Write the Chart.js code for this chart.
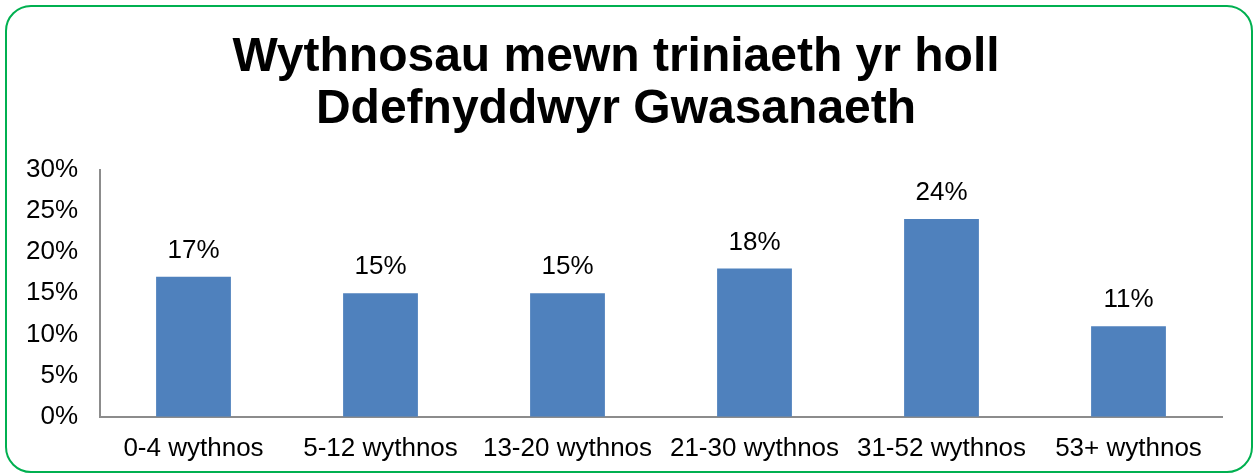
<!DOCTYPE html>
<html>
<head>
<meta charset="utf-8">
<script src="https://cdn.jsdelivr.net/npm/chart.js@4"></script>
<style>
    body { margin: 0; background: #fff; }
    #frame {
        position: absolute; left: 5px; top: 5px; width: 1244px; height: 464px;
        border: 2px solid #00B050; border-radius: 26px;
    }
    #wrap { position: absolute; left: 0; top: 0; width: 1255px; height: 476px; }
</style>
</head>
<body>
<div id="frame"></div>
<div id="wrap"><canvas id="chart"></canvas></div>
<script>
const categories = ["0-4 wythnos", "5-12 wythnos", "13-20 wythnos", "21-30 wythnos", "31-52 wythnos", "53+ wythnos"];
const percentValues = [17, 15, 15, 18, 24, 11];
const titleLines = ["Wythnosau mewn triniaeth yr holl", "Ddefnyddwyr Gwasanaeth"];

const fontFamily = "'Liberation Sans', Arial, sans-serif";

// labels above bars
const barLabels = {
    id: "barLabels",
    afterDatasetsDraw(chart) {
        const ctx = chart.ctx;
        ctx.save();
        ctx.font = "26px " + fontFamily;
        ctx.fillStyle = "#000";
        ctx.textAlign = "center";
        ctx.textBaseline = "middle";
        chart.getDatasetMeta(0).data.forEach((bar, i) => {
            ctx.fillText(percentValues[i] + "%", bar.x, bar.y - 26);
        });
        ctx.restore();
    }
};

new Chart(document.getElementById("chart"), {
    type: "bar",
    data: {
        labels: categories,
        datasets: [{
            data: percentValues,
            backgroundColor: "#4F81BD",
            categoryPercentage: 1,
            barPercentage: 0.4
        }]
    },
    options: {
        responsive: true,
        maintainAspectRatio: false,
        animation: false,
        layout: { padding: { left: 10, right: 33, top: 0, bottom: -4 } },
        plugins: {
            legend: { display: false },
            tooltip: { enabled: false },
            title: {
                display: true,
                text: titleLines,
                color: "#000",
                font: { family: fontFamily, size: 48, weight: "bold", lineHeight: 1.1 },
                padding: { top: 31, bottom: 33 }
            }
        },
        scales: {
            x: {
                grid: { display: false, drawTicks: false },
                border: { display: true, color: "#8c8c8c", width: 2 },
                ticks: {
                    color: "#000",
                    padding: 16,
                    font: { family: fontFamily, size: 26 }
                }
            },
            y: {
                min: 0,
                max: 30,
                afterFit: (scale) => { scale.width = 90; },
                grid: { display: false, drawTicks: false },
                border: { display: true, color: "#8c8c8c", width: 2 },
                ticks: {
                    stepSize: 5,
                    color: "#000",
                    padding: 22,
                    font: { family: fontFamily, size: 26 },
                    callback: (v) => v + "%"
                }
            }
        }
    },
    plugins: [barLabels]
});
</script>
</body>
</html>
